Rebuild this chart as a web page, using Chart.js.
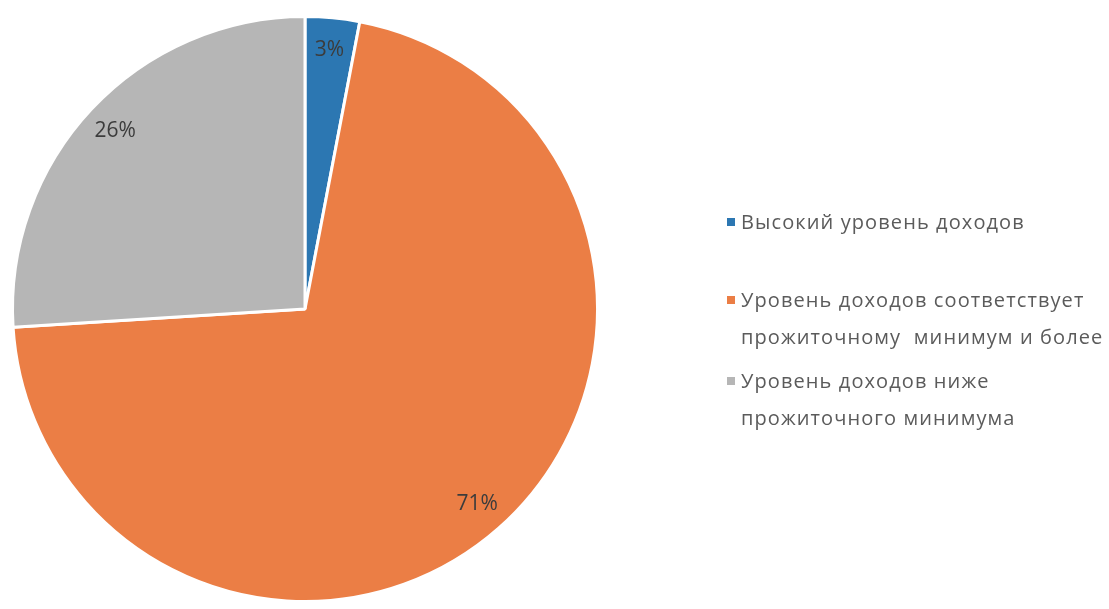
<!DOCTYPE html>
<html>
<head>
<meta charset="utf-8">
<script src="https://cdn.jsdelivr.net/npm/chart.js@4/dist/chart.umd.min.js"></script>
<style>
  html, body { margin: 0; padding: 0; background: #fff; }
  #wrap { position: relative; width: 1109px; height: 609px; overflow: hidden; }
  #legend { position: absolute; left: 727px; top: 0; font-family: "Open Sans", sans-serif;
    font-size: 20px; color: #5b5b5b; letter-spacing: 1.1px; }
  .item { position: absolute; left: 0; white-space: nowrap; line-height: 37px; }
  .box { position: absolute; left: 0; width: 8px; height: 8px; }
  .txt { position: absolute; left: 14px; top: 0; }
</style>
</head>
<body>
<div id="wrap">
  <canvas id="pie" width="1109" height="609"></canvas>
  <div id="legend"></div>
</div>
<script>
// DATA
const categories = [
  "Высокий уровень доходов",
  "Уровень доходов соответствует\nпрожиточному  минимум и более",
  "Уровень доходов ниже\nпрожиточного минимума",
];
const shares = [3, 71, 26];
const colors = ["#2c77b2", "#eb7e45", "#b6b6b6"];

// legend rows (top of each item, px)
const legendTops = [203, 281, 362];

// % labels inside slices
const sliceLabels = {
  id: "sliceLabels",
  afterDatasetsDraw(chart) {
    const ctx = chart.ctx;
    const meta = chart.getDatasetMeta(0);
    const total = shares.reduce((a, b) => a + b, 0);
    ctx.save();
    ctx.font = "21px 'Open Sans', sans-serif";
    ctx.fillStyle = "#3c3c3c";
    ctx.textAlign = "center";
    ctx.textBaseline = "middle";
    meta.data.forEach((arc, i) => {
      const mid = (arc.startAngle + arc.endAngle) / 2;
      const r = arc.outerRadius * 0.89;
      const x = arc.x + Math.cos(mid) * r;
      const y = arc.y + Math.sin(mid) * r;
      ctx.fillText(Math.round((shares[i] / total) * 100) + "%", x, y);
    });
    ctx.restore();
  },
};

const chart = new Chart(document.getElementById("pie"), {
  type: "pie",
  data: {
    labels: categories,
    datasets: [
      {
        data: shares,
        backgroundColor: colors,
        borderColor: "#ffffff",
        borderWidth: 3,
      },
    ],
  },
  options: {
    responsive: false,
    animation: false,
    layout: { padding: { left: 11, right: 510, top: 15, bottom: 6 } },
    plugins: { legend: { display: false }, tooltip: { enabled: false } },
  },
  plugins: [sliceLabels],
});

// HTML LEGEND
const legend = document.getElementById("legend");
categories.forEach((name, i) => {
  const item = document.createElement("div");
  item.className = "item";
  item.style.top = legendTops[i] + "px";
  const box = document.createElement("div");
  box.className = "box";
  box.style.background = colors[i];
  box.style.top = "15px";
  const txt = document.createElement("div");
  txt.className = "txt";
  txt.innerHTML = name.split("\n").join("<br>").replace("  ", "&nbsp; ");
  item.appendChild(box);
  item.appendChild(txt);
  legend.appendChild(item);
});
</script>
</body>
</html>
